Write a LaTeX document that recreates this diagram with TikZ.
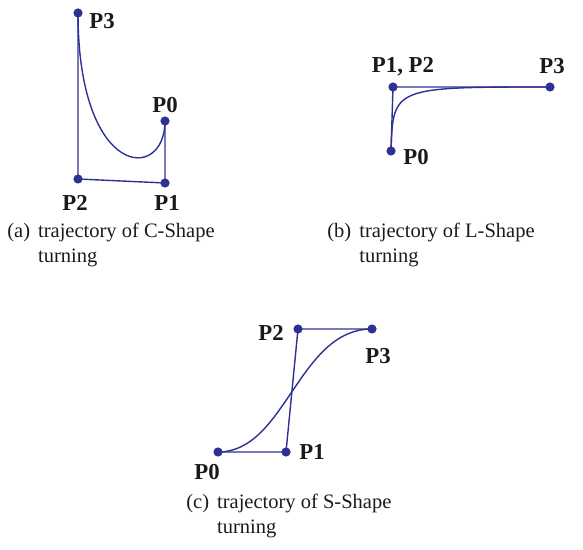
\documentclass[tikz,border=0pt]{standalone}
\usepackage{fontspec}
\setmainfont{Liberation Serif}
\usetikzlibrary{positioning}
\definecolor{ptblue}{HTML}{2E3192}
\definecolor{txtdark}{HTML}{1A1A1A}

\begin{document}
\begin{tikzpicture}[x=0.5pt,y=-0.5pt,
    every node/.style={text=txtdark},
    pt/.style={circle,fill=ptblue,inner sep=0pt,minimum size=4.6pt},
    lbl/.style={font=\fontsize{11.4}{13}\selectfont\bfseries,inner sep=0pt},
    captxt/.style={font=\fontsize{10.25}{12.5}\selectfont,anchor=base west,inner sep=0pt},
    seg/.style={ptblue,line width=0.7pt}]
  \useasboundingbox (0,0) rectangle (583,550);
  % (a) C-Shape
  \node[pt] (a0) at (165,121) {};
  \node[pt] (a1) at (165,183) {};
  \node[pt] (a2) at (78,179) {};
  \node[pt] (a3) at (78,13) {};
  \draw[seg] (a3.center) -- (a2.center) -- (a1.center) -- (a0.center);
  \draw[seg] (a0.center) .. controls (a1.center) and (a2.center) .. (a3.center);
  \node[lbl] (la3) at (102,21) {P3};
  \node[lbl] (la0) at (165,105) {P0};
  \node[lbl] (la2) at (75,203) {P2};
  \node[lbl] (la1) at (167,203) {P1};
  \node[captxt] (capa) at (7,238) {\begin{tabular}[t]{@{}l@{\hspace{4pt}}l@{}}(a) & trajectory of C-Shape\\ & turning\end{tabular}};
  % (b) L-Shape
  \node[pt] (b0) at (391,151) {};
  \node[pt] (b1) at (393,87) {};
  \node[pt] (b3) at (550,87) {};
  \draw[seg] (b0.center) -- (b1.center) -- (b3.center);
  \draw[seg] (b0.center) .. controls (b1.center) and (b1.center) .. (b3.center);
  \node[lbl] (lb1) at (403,67) {P1, P2};
  \node[lbl] (lb3) at (552,66) {P3};
  \node[lbl] (lb0) at (416,157) {P0};
  \node[captxt] (capb) at (327,238) {\begin{tabular}[t]{@{}l@{\hspace{4pt}}l@{}}(b) & trajectory of L-Shape\\ & turning\end{tabular}};
  % (c) S-Shape
  \node[pt] (c0) at (218,452) {};
  \node[pt] (c1) at (286,452) {};
  \node[pt] (c2) at (298,329) {};
  \node[pt] (c3) at (372,329) {};
  \draw[seg] (c0.center) -- (c1.center) -- (c2.center) -- (c3.center);
  \draw[seg] (c0.center) .. controls (c1.center) and (c2.center) .. (c3.center);
  \node[lbl] (lc2) at (271,333) {P2};
  \node[lbl] (lc3) at (378,356) {P3};
  \node[lbl] (lc1) at (312,452) {P1};
  \node[lbl] (lc0) at (207,472) {P0};
  \node[captxt] (capc) at (186,508) {\begin{tabular}[t]{@{}l@{\hspace{4pt}}l@{}}(c) & trajectory of S-Shape\\ & turning\end{tabular}};
\end{tikzpicture}
\end{document}
